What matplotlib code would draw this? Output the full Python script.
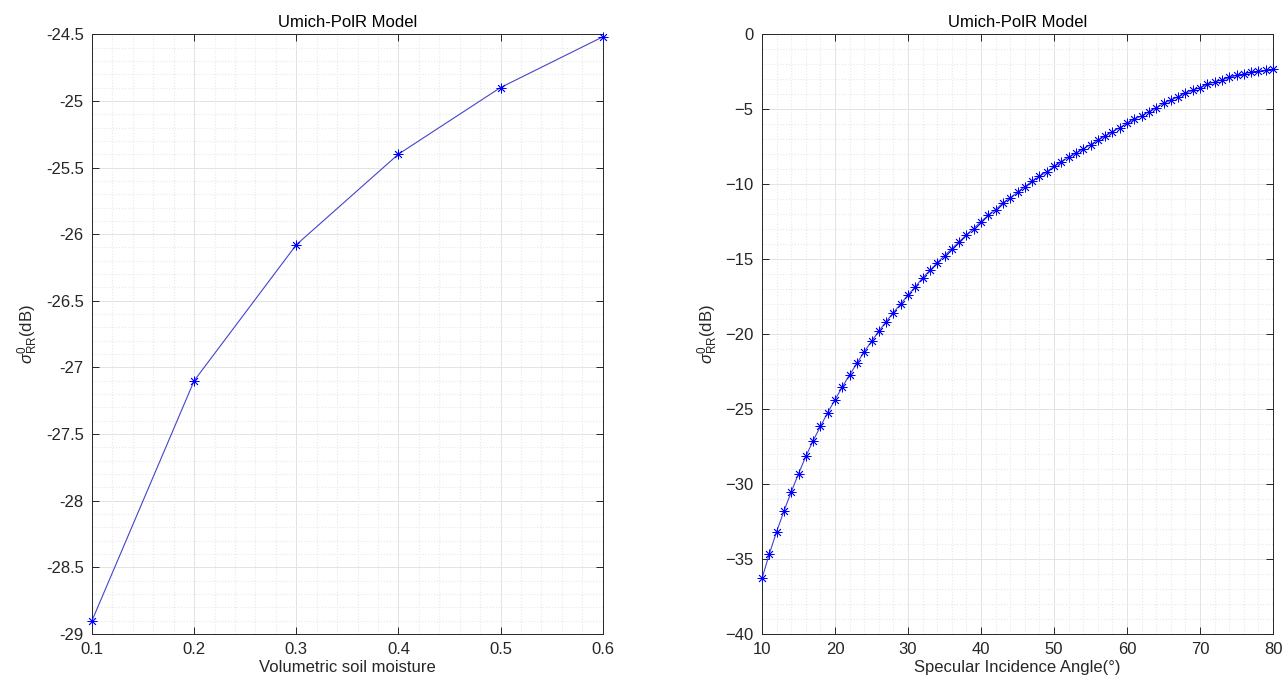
import matplotlib
matplotlib.use('Agg')
import matplotlib.pyplot as plt
from matplotlib.ticker import AutoMinorLocator, MultipleLocator

# left panel: soil moisture sweep
moisture = [0.1, 0.2, 0.3, 0.4, 0.5, 0.6]
sigma_moist = [-28.9, -27.1, -26.08, -25.4, -24.9, -24.52]

# right panel: incidence angle sweep (10..80 deg, 1 deg step)
angles = list(range(10, 81))
sigma_angle = [
    -36.30, -34.66, -33.18, -31.81, -30.53, -29.31, -28.16, -27.11, -26.16, -25.23,
    -24.38, -23.52, -22.72, -21.95, -21.17, -20.49, -19.80, -19.18, -18.56, -17.99,
    -17.39, -16.85, -16.25, -15.75, -15.24, -14.77, -14.31, -13.84, -13.38, -12.96,
    -12.49, -12.08, -11.70, -11.25, -10.92, -10.54, -10.16, -9.81, -9.48, -9.17,
    -8.82, -8.50, -8.19, -7.93, -7.64, -7.36, -7.07, -6.78, -6.50, -6.23,
    -5.95, -5.68, -5.43, -5.16, -4.90, -4.61, -4.39, -4.17, -3.94, -3.74,
    -3.56, -3.34, -3.19, -3.04, -2.88, -2.75, -2.64, -2.55, -2.48, -2.41,
    -2.35,
]

plt.rcParams['font.family'] = ['Liberation Sans', 'DejaVu Sans']
plt.rcParams['mathtext.fontset'] = 'custom'
plt.rcParams['mathtext.rm'] = 'Liberation Sans'
plt.rcParams['mathtext.it'] = 'Liberation Sans:italic'

txt = '#262626'
ylab = r'$\sigma^{0}_{\mathrm{RR}}$(dB)'
star = (8, 2, 0)  # asterisk marker like matlab '*'

fig = plt.figure(figsize=(12.85, 6.85), dpi=100)
ax1 = fig.add_axes([0.0716, 0.0745, 0.3974, 0.8755])
ax2 = fig.add_axes([0.593, 0.0745, 0.3977, 0.8755])


def style(ax):
    ax.xaxis.set_minor_locator(AutoMinorLocator(5))
    ax.yaxis.set_minor_locator(AutoMinorLocator(5))
    ax.grid(True, which='major', color='#e3e3e3', linewidth=0.7)
    ax.grid(True, which='minor', color='#e8e8e8', linestyle=':', linewidth=0.8)
    ax.set_axisbelow(True)
    ax.tick_params(which='both', direction='in', top=True, right=True,
                   labelsize=12, colors=txt, labelcolor=txt)
    ax.tick_params(which='minor', length=0)
    ax.tick_params(which='major', length=5, width=0.7, pad=6)
    for s in ax.spines.values():
        s.set_color('#262626')
        s.set_linewidth(0.7)


ax1.plot(moisture, sigma_moist, color='#4444cc', linewidth=0.8,
         marker=star, markersize=7, markeredgewidth=0.6, markeredgecolor='blue',
         clip_on=False, zorder=3)
ax1.set_xticks(moisture)
ax1.set_xticklabels(['%g' % v for v in moisture])
yt = [-29, -28.5, -28, -27.5, -27, -26.5, -26, -25.5, -25, -24.5]
ax1.set_yticks(yt)
ax1.set_yticklabels(['%g' % v for v in yt])
ax1.set_xlim(0.1, 0.6)
ax1.set_ylim(-29, -24.5)
style(ax1)
ax1.set_title('Umich-PolR Model', fontsize=12, color='black', pad=5)
ax1.set_xlabel('Volumetric soil moisture', fontsize=12, color=txt, labelpad=2)
ax1.set_ylabel(ylab, fontsize=12, color=txt, labelpad=4)

ax2.plot(angles, sigma_angle, color='#4444cc', linewidth=0.8,
         marker=star, markersize=7, markeredgewidth=0.6, markeredgecolor='blue',
         clip_on=False, zorder=3)
ax2.set_xlim(10, 80)
ax2.set_ylim(-40, 0)
ax2.xaxis.set_major_locator(MultipleLocator(10))
ax2.yaxis.set_major_locator(MultipleLocator(5))
style(ax2)
ax2.set_title('Umich-PolR Model', fontsize=12, color='black', pad=5)
ax2.set_xlabel('Specular Incidence Angle(°)', fontsize=12, color=txt, labelpad=2)
ax2.set_ylabel(ylab, fontsize=12, color=txt, labelpad=4)

fig.savefig('out.png', dpi=100, facecolor='white')
